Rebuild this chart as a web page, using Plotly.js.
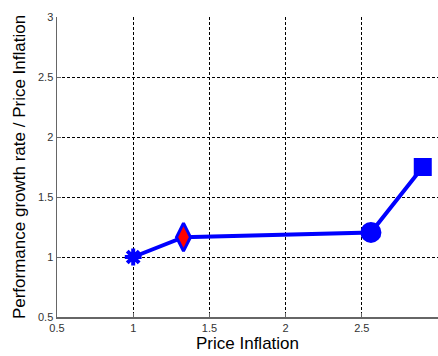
<!DOCTYPE html>
<html>
<head>
<meta charset="utf-8">
<script src="https://cdn.plot.ly/plotly-3.0.1.min.js"></script>
<style>
  html, body { margin: 0; padding: 0; background: #fff; }
  #chart { width: 438px; height: 356px; }
</style>
</head>
<body>
<div id="chart"></div>
<script>
// Price inflation vs. performance growth rate relative to price inflation
const priceInflation = [1, 1.33, 2.56, 2.9];
const growthRatio = [1, 1.165, 1.205, 1.75];
const markerSymbols = ['asterisk-open', 'diamond-tall', 'circle', 'square'];
const markerSizes = [14, 20, 18, 15];
const markerFills = ['#0000ff', '#ff0000', '#0000ff', '#0000ff'];
const markerEdgeWidths = [4, 3, 3, 3];

const tickVals = [0.5, 1, 1.5, 2, 2.5, 3];
const tickText = ['0.5', '1', '1.5', '2', '2.5', '3'];

const trace = {
  x: priceInflation,
  y: growthRatio,
  mode: 'lines+markers',
  line: { color: '#0000ff', width: 4 },
  marker: {
    symbol: markerSymbols,
    size: markerSizes,
    color: markerFills,
    opacity: 1,
    line: { color: '#0000ff', width: markerEdgeWidths }
  },
  opacity: 1,
  hoverinfo: 'skip',
  showlegend: false,
  cliponaxis: false
};

const axisCommon = {
  tickvals: tickVals,
  ticktext: tickText,
  showgrid: true,
  gridcolor: '#000000',
  gridwidth: 1,
  griddash: '3px,2px',
  zeroline: false,
  showline: true,
  linecolor: '#666666',
  linewidth: 1.5,
  ticks: 'inside',
  ticklen: 4,
  tickcolor: '#666666',
  tickfont: { family: 'Liberation Sans, Arial, sans-serif', size: 11, color: '#333333' }
};

const layout = {
  width: 438,
  height: 356,
  margin: { l: 57, r: 0, t: 17, b: 39 },
  paper_bgcolor: '#ffffff',
  plot_bgcolor: '#ffffff',
  xaxis: Object.assign({}, axisCommon, {
    range: [0.5, 3],
    title: {
      text: 'Price Inflation',
      font: { family: 'Liberation Sans, Arial, sans-serif', size: 17, color: '#000000' },
      standoff: 4
    }
  }),
  yaxis: Object.assign({}, axisCommon, {
    range: [0.5, 3],
    title: {
      text: 'Performance growth rate / Price Inflation',
      font: { family: 'Liberation Sans, Arial, sans-serif', size: 17, color: '#000000' },
      standoff: 8
    }
  })
};

Plotly.newPlot('chart', [trace], layout, { displayModeBar: false, staticPlot: true });
</script>
</body>
</html>
